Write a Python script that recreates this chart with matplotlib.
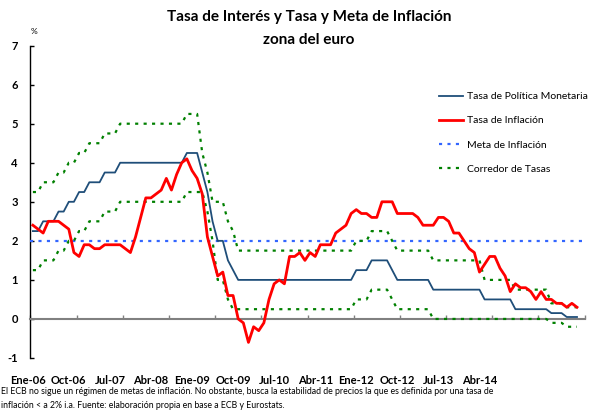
import matplotlib.pyplot as plt
import numpy as np

plt.rcParams['font.family'] = ['Lato', 'DejaVu Sans']

# Monthly data, Jan-2006 .. Nov-2014
tasa_politica = [
    2.25, 2.25, 2.50, 2.50, 2.50, 2.75, 2.75, 3.00, 3.00, 3.25, 3.25, 3.50,
    3.50, 3.50, 3.75, 3.75, 3.75, 4.00, 4.00, 4.00, 4.00, 4.00, 4.00, 4.00,
    4.00, 4.00, 4.00, 4.00, 4.00, 4.00, 4.25, 4.25, 4.25, 3.75, 3.25, 2.50,
    2.00, 2.00, 1.50, 1.25, 1.00, 1.00, 1.00, 1.00, 1.00, 1.00, 1.00, 1.00,
    1.00, 1.00, 1.00, 1.00, 1.00, 1.00, 1.00, 1.00, 1.00, 1.00, 1.00, 1.00,
    1.00, 1.00, 1.00, 1.25, 1.25, 1.25, 1.50, 1.50, 1.50, 1.50, 1.25, 1.00,
    1.00, 1.00, 1.00, 1.00, 1.00, 1.00, 0.75, 0.75, 0.75, 0.75, 0.75, 0.75,
    0.75, 0.75, 0.75, 0.75, 0.50, 0.50, 0.50, 0.50, 0.50, 0.50, 0.25, 0.25,
    0.25, 0.25, 0.25, 0.25, 0.25, 0.15, 0.15, 0.15, 0.05, 0.05, 0.05,
]

inflacion = [
    2.4, 2.3, 2.2, 2.5, 2.5, 2.5, 2.4, 2.3, 1.7, 1.6, 1.9, 1.9,
    1.8, 1.8, 1.9, 1.9, 1.9, 1.9, 1.8, 1.7, 2.1, 2.6, 3.1, 3.1,
    3.2, 3.3, 3.6, 3.3, 3.7, 4.0, 4.1, 3.8, 3.6, 3.2, 2.1, 1.6,
    1.1, 1.2, 0.6, 0.6, 0.0, -0.1, -0.6, -0.2, -0.3, -0.1, 0.5, 0.9,
    1.0, 0.9, 1.6, 1.6, 1.7, 1.5, 1.7, 1.6, 1.9, 1.9, 1.9, 2.2,
    2.3, 2.4, 2.7, 2.8, 2.7, 2.7, 2.6, 2.6, 3.0, 3.0, 3.0, 2.7,
    2.7, 2.7, 2.7, 2.6, 2.4, 2.4, 2.4, 2.6, 2.6, 2.5, 2.2, 2.2,
    2.0, 1.8, 1.7, 1.2, 1.4, 1.6, 1.6, 1.3, 1.1, 0.7, 0.9, 0.8,
    0.8, 0.7, 0.5, 0.7, 0.5, 0.5, 0.4, 0.4, 0.3, 0.4, 0.3,
]

corredor_sup = [
    3.25, 3.25, 3.50, 3.50, 3.50, 3.75, 3.75, 4.00, 4.00, 4.25, 4.25, 4.50,
    4.50, 4.50, 4.75, 4.75, 4.75, 5.00, 5.00, 5.00, 5.00, 5.00, 5.00, 5.00,
    5.00, 5.00, 5.00, 5.00, 5.00, 5.00, 5.25, 5.25, 5.25, 4.25, 3.75, 3.00,
    3.00, 3.00, 2.50, 2.25, 1.75, 1.75, 1.75, 1.75, 1.75, 1.75, 1.75, 1.75,
    1.75, 1.75, 1.75, 1.75, 1.75, 1.75, 1.75, 1.75, 1.75, 1.75, 1.75, 1.75,
    1.75, 1.75, 1.75, 2.00, 2.00, 2.00, 2.25, 2.25, 2.25, 2.25, 2.00, 1.75,
    1.75, 1.75, 1.75, 1.75, 1.75, 1.75, 1.50, 1.50, 1.50, 1.50, 1.50, 1.50,
    1.50, 1.50, 1.50, 1.50, 1.00, 1.00, 1.00, 1.00, 1.00, 1.00, 0.75, 0.75,
    0.75, 0.75, 0.75, 0.75, 0.75, 0.40, 0.40, 0.40, 0.30, 0.30, 0.30,
]

corredor_inf = [
    1.25, 1.25, 1.50, 1.50, 1.50, 1.75, 1.75, 2.00, 2.00, 2.25, 2.25, 2.50,
    2.50, 2.50, 2.75, 2.75, 2.75, 3.00, 3.00, 3.00, 3.00, 3.00, 3.00, 3.00,
    3.00, 3.00, 3.00, 3.00, 3.00, 3.00, 3.25, 3.25, 3.25, 3.25, 2.75, 2.00,
    1.00, 1.00, 0.50, 0.25, 0.25, 0.25, 0.25, 0.25, 0.25, 0.25, 0.25, 0.25,
    0.25, 0.25, 0.25, 0.25, 0.25, 0.25, 0.25, 0.25, 0.25, 0.25, 0.25, 0.25,
    0.25, 0.25, 0.25, 0.50, 0.50, 0.50, 0.75, 0.75, 0.75, 0.75, 0.50, 0.25,
    0.25, 0.25, 0.25, 0.25, 0.25, 0.25, 0.00, 0.00, 0.00, 0.00, 0.00, 0.00,
    0.00, 0.00, 0.00, 0.00, 0.00, 0.00, 0.00, 0.00, 0.00, 0.00, 0.00, 0.00,
    0.00, 0.00, 0.00, 0.00, 0.00, -0.10, -0.10, -0.10, -0.20, -0.20, -0.20,
]

meta_inflacion = 2.0

etiquetas_x = ['Ene-06', 'Oct-06', 'Jul-07', 'Abr-08', 'Ene-09', 'Oct-09',
               'Jul-10', 'Abr-11', 'Ene-12', 'Oct-12', 'Jul-13', 'Abr-14']

n = len(inflacion)
x = np.arange(n) + 0.5

fig = plt.figure(figsize=(5.91, 4.12), dpi=100)
W, H = 591, 412
ax = fig.add_axes([30.3 / W, 1 - 358 / H, 554.4 / W, 312.4 / H])

dots = (0, (1.4, 2.4))
ax.plot(x, tasa_politica, color='#1F4E79', lw=1.3, label='Tasa de Política Monetaria', zorder=4)
ax.plot(x, inflacion, color='#FF0000', lw=2.0, label='Tasa de Inflación', zorder=5)
ax.axhline(meta_inflacion, color='#3366FF', lw=1.6, ls=dots, label='Meta de Inflación', zorder=3)
ax.plot(x, corredor_sup, color='#008000', lw=1.6, ls=dots, label='Corredor de Tasas', zorder=3)
ax.plot(x, corredor_inf, color='#008000', lw=1.6, ls=dots, zorder=3)

ax.set_xlim(0, 108)
ax.set_ylim(-1, 7)
ax.set_yticks(range(-1, 8))
ax.set_yticklabels([str(v) for v in range(-1, 8)], fontweight='bold', fontsize=8)
ax.tick_params(axis='y', direction='in', length=3, width=1, pad=9, colors='black')

ax.set_xticks(np.arange(0, 109, 9))
ax.set_xticklabels([])
ax.tick_params(axis='x', direction='in', length=3, width=1, color='#808080')

for s in ['top', 'right']:
    ax.spines[s].set_visible(False)
ax.spines['bottom'].set_position(('data', 0))
ax.spines['bottom'].set_color('#808080')
ax.spines['bottom'].set_linewidth(1.5)
ax.spines['left'].set_linewidth(1)

# category labels (spaced as in the original)
off = -22.7 / 312.4
for i, lab in enumerate(etiquetas_x):
    ax.text(-0.5 + 8 * i, off, lab, transform=ax.get_xaxis_transform(),
            ha='center', va='center', fontsize=8, fontweight='bold', clip_on=False)

fig.text(309 / W, 1 - 17 / H, 'Tasa de Interés y Tasa y Meta de Inflación',
         ha='center', va='center', fontsize=11, fontweight='bold')
fig.text(309 / W, 1 - 40 / H, 'zona del euro',
         ha='center', va='center', fontsize=11, fontweight='bold')
fig.text(34 / W, 1 - 32 / H, '%', ha='center', va='center', fontsize=6)

ax.legend(loc='upper left', bbox_to_anchor=(439 / W, 1 - 92 / H),
          bbox_transform=fig.transFigure, frameon=False, fontsize=7.5,
          handlelength=2.3, handletextpad=0.35, labelspacing=1.43,
          borderpad=0, borderaxespad=0)

fig.text(1 / W, 1 - 392 / H,
         'El ECB no sigue un régimen de metas de inflación. No obstante, busca la estabilidad de precios la que es definida por una tasa de',
         ha='left', va='center', fontsize=6.3)
fig.text(1 / W, 1 - 406 / H,
         'inflación < a 2% i.a. Fuente: elaboración propia en base a ECB y Eurostats.',
         ha='left', va='center', fontsize=6.3)

fig.savefig('out.png', dpi=100)
